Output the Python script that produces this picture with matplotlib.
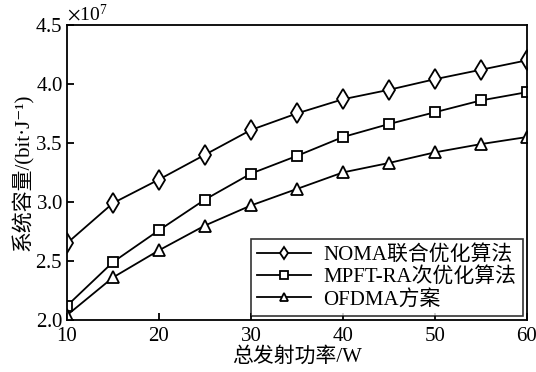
import matplotlib
matplotlib.use('Agg')
import matplotlib.pyplot as plt
from matplotlib.ticker import ScalarFormatter

plt.rcParams['font.family'] = ['Liberation Serif', 'Noto Sans CJK SC', 'DejaVu Serif']
plt.rcParams['mathtext.fontset'] = 'stix'

power = [10, 15, 20, 25, 30, 35, 40, 45, 50, 55, 60]
noma = [2.65, 2.99, 3.19, 3.40, 3.61, 3.75, 3.87, 3.95, 4.04, 4.12, 4.20]
mpft = [2.12, 2.49, 2.76, 3.02, 3.24, 3.39, 3.55, 3.66, 3.76, 3.86, 3.93]
ofdma = [2.04, 2.36, 2.59, 2.80, 2.97, 3.11, 3.25, 3.33, 3.42, 3.49, 3.55]

labels = ['NOMA联合优化算法', 'MPFT-RA次优化算法', 'OFDMA方案']
markers = ['d', 's', '^']
msizes = [10, 7.5, 9]

fig = plt.figure(figsize=(5.36, 3.72), dpi=100)
ax = fig.add_axes([0.125, 0.14, 0.858, 0.793])

for ys, lab, m, ms in zip([noma, mpft, ofdma], labels, markers, msizes):
    ax.plot(power, [v * 1e7 for v in ys], color='black', lw=1.3, marker=m,
            ms=ms, mfc='white', mec='black', mew=1.3, label=lab)

ax.set_xlim(10, 60)
ax.set_ylim(2.0e7, 4.5e7)
ax.set_xticks([10, 20, 30, 40, 50, 60])
ax.set_yticks([2.0e7, 2.5e7, 3.0e7, 3.5e7, 4.0e7, 4.5e7])
fmt = ScalarFormatter(useMathText=True)
fmt.set_powerlimits((0, 0))
ax.yaxis.set_major_formatter(fmt)
ax.yaxis.get_offset_text().set_fontsize(14)
ax.tick_params(direction='in', length=5, width=1.3, labelsize=15,
               top=False, right=False, pad=3)
ax.tick_params(axis='x', pad=5)
for s in ax.spines.values():
    s.set_linewidth(1.3)

ax.set_xlabel('总发射功率/W', fontsize=15, labelpad=1)
ax.set_ylabel('系统容量/(bit·J⁻¹)', fontsize=15, labelpad=1)

leg = ax.legend(loc='lower right', fontsize=15, frameon=True, fancybox=False,
                edgecolor='black', borderaxespad=0.2, handlelength=2.6,
                labelspacing=0.12, borderpad=0.3, handletextpad=0.6)
leg.get_frame().set_linewidth(1.2)
for h in leg.legend_handles:
    h.set_markersize(6)

fig.savefig('out.png', dpi=100)
